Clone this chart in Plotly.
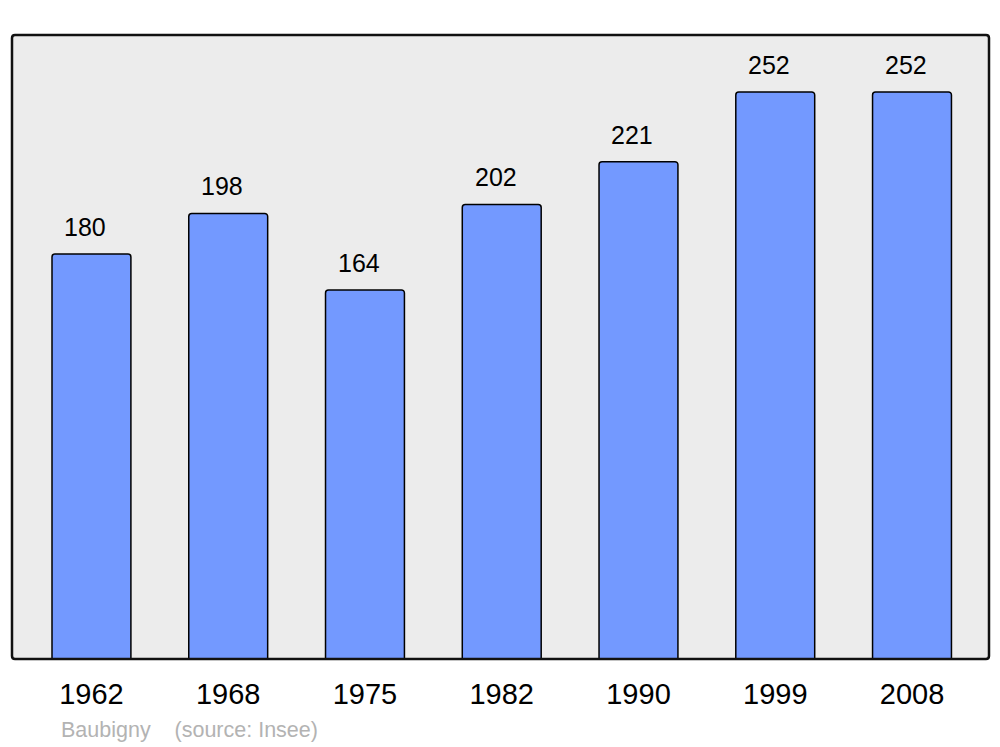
import plotly.graph_objects as go

years = ["1962", "1968", "1975", "1982", "1990", "1999", "2008"]
population = [180, 198, 164, 202, 221, 252, 252]
commune = "Baubigny"
source = "(source: Insee)"

FONT = "Liberation Sans, Arial, sans-serif"
idx = list(range(len(years)))

fig = go.Figure()
fig.add_trace(go.Bar(
    x=idx, y=population, width=0.577,
    marker=dict(color="#7399ff", line=dict(color="#000000", width=1.5)),
    hoverinfo="skip",
))

for i, v in zip(idx, population):
    fig.add_annotation(x=i, y=v, xref="x", yref="y", text=str(v), showarrow=False,
                       xanchor="center", yanchor="middle", xshift=-6, yshift=27,
                       font=dict(family=FONT, size=25, color="#000000"))

fig.add_annotation(xref="paper", yref="paper", x=0.048, y=-0.114,
                   text=commune + "&nbsp;&nbsp;&nbsp;&nbsp;" + source, showarrow=False,
                   xanchor="left", yanchor="middle",
                   font=dict(family=FONT, size=21.5, color="#b3b3b3"))

# rounded border around plot area
rx = 3 / 977.5
ry = 3 / 625
path = (f"M {rx},0 L {1-rx},0 Q 1,0 1,{ry} L 1,{1-ry} Q 1,1 {1-rx},1 "
        f"L {rx},1 Q 0,1 0,{1-ry} L 0,{ry} Q 0,0 {rx},0 Z")
fig.add_shape(type="path", xref="paper", yref="paper", path=path,
              line=dict(color="#111111", width=2.5), layer="above")

fig.update_layout(
    width=992, height=739,
    margin=dict(l=3.5, r=11, t=26.5, b=87.5),
    paper_bgcolor="#ffffff", plot_bgcolor="#ececec",
    barcornerradius=3,
    showlegend=False,
    xaxis=dict(range=[-0.581, 6.563], showgrid=False, zeroline=False,
               tickmode="array", tickvals=idx, ticktext=years,
               ticks="", showline=False, ticklabelstandoff=15,
               tickfont=dict(family=FONT, size=29, color="#000000")),
    yaxis=dict(range=[0, 277.3], showgrid=False, zeroline=False, showticklabels=False,
               ticks="", showline=False),
)

fig.write_html("out.html")
